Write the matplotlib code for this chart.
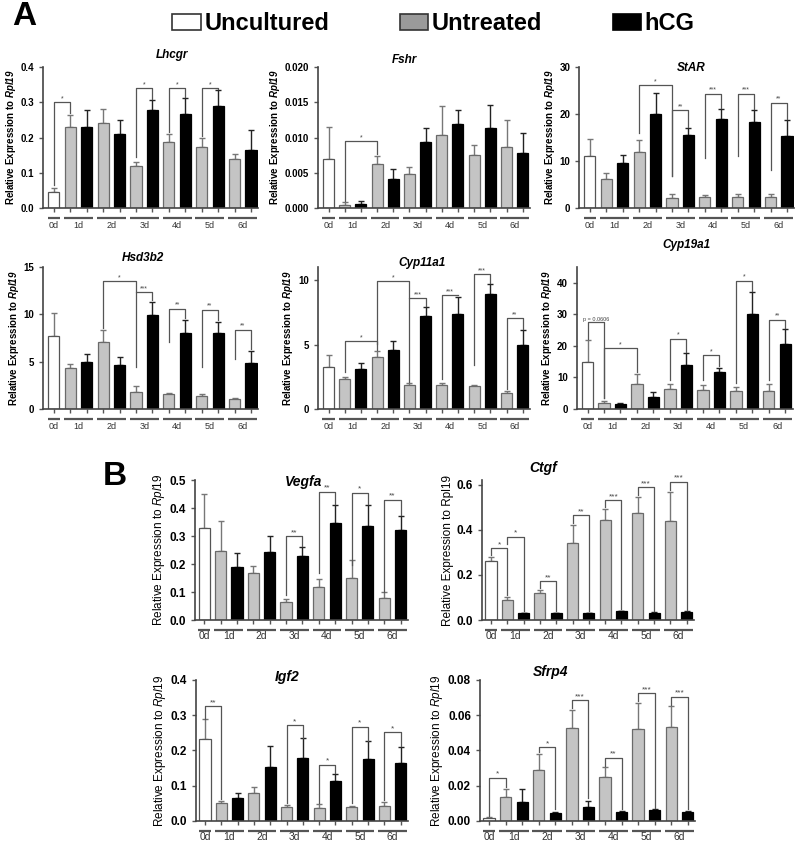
import numpy as np
import matplotlib
matplotlib.use("Agg")
import matplotlib.pyplot as plt
from matplotlib.patches import Patch
from matplotlib.transforms import blended_transform_factory, offset_copy

plt.rcParams['font.family'] = ['Liberation Sans', 'DejaVu Sans']
plt.rcParams['mathtext.fontset'] = 'custom'
plt.rcParams['mathtext.it'] = 'Liberation Sans:italic'
plt.rcParams['mathtext.bf'] = 'Liberation Sans:italic:bold'
plt.rcParams['mathtext.rm'] = 'Liberation Sans'

# groups: 0d uncultured, then untreated / hCG for days 1-6
days = ["0d", "1d", "2d", "3d", "4d", "5d", "6d"]

lhcgr_mean = [0.045, 0.23, 0.23, 0.241, 0.211, 0.119, 0.277, 0.187, 0.268, 0.173, 0.291, 0.14, 0.164]
lhcgr_err = [0.013, 0.035, 0.048, 0.041, 0.038, 0.011, 0.030, 0.024, 0.045, 0.027, 0.043, 0.014, 0.058]
lhcgr_sig = [(0, 1, 0.30, 0.065, 0.27, "*"), (5, 6, 0.34, 0.145, 0.31, "*"),
             (7, 8, 0.34, 0.215, 0.315, "*"), (9, 10, 0.34, 0.205, 0.337, "*")]

fshr_mean = [0.0070, 0.0004, 0.0006, 0.0062, 0.0041, 0.0049, 0.0094, 0.0103, 0.0119, 0.0075, 0.0114, 0.0087, 0.0078]
fshr_err = [0.0045, 0.0004, 0.0004, 0.0012, 0.0014, 0.0010, 0.0019, 0.0042, 0.0020, 0.0014, 0.0032, 0.0038, 0.0028]
fshr_sig = [(1, 3, 0.0095, 0.0010, 0.0077, "*")]

star_mean = [11.0, 6.2, 9.6, 12.0, 20.0, 2.1, 15.5, 2.4, 18.9, 2.4, 18.3, 2.4, 15.3]
star_err = [3.6, 1.3, 1.7, 2.5, 4.5, 0.8, 1.6, 0.3, 2.2, 0.5, 2.6, 0.5, 3.5]
star_sig = [(3, 5, 26.2, 16.0, 6.8, "*"), (5, 6, 20.8, 6.8, 17.3, "**"),
            (7, 8, 24.3, 10.6, 21.3, "***"), (9, 10, 24.3, 11.0, 21.0, "***"),
            (11, 12, 22.4, 8.2, 18.9, "**")]

hsd_mean = [7.7, 4.3, 5.0, 7.05, 4.65, 1.83, 9.9, 1.6, 8.0, 1.4, 8.0, 1.05, 4.85]
hsd_err = [2.4, 0.45, 0.8, 1.25, 0.8, 0.64, 1.4, 0.1, 1.4, 0.2, 1.2, 0.1, 1.25]
hsd_sig = [(3, 5, 13.5, 8.6, 12.35, "*"), (5, 6, 12.35, 4.4, 11.5, "***"),
           (7, 8, 10.6, 7.05, 9.6, "**"), (9, 10, 10.5, 4.4, 9.4, "**"),
           (11, 12, 8.4, 5.3, 6.3, "**")]

cyp11_mean = [3.25, 2.3, 3.1, 4.07, 4.6, 1.83, 7.24, 1.9, 7.37, 1.75, 8.9, 1.26, 5.0]
cyp11_err = [0.9, 0.2, 0.5, 0.43, 0.7, 0.17, 0.66, 0.15, 1.29, 0.15, 0.8, 0.14, 1.1]
cyp11_sig = [(1, 3, 5.26, 2.86, 4.6, "*"), (3, 5, 9.9, 5.05, 8.6, "*"),
             (5, 6, 8.6, 2.1, 8.0, "***"), (7, 8, 8.84, 2.35, 8.8, "***"),
             (9, 10, 10.46, 3.4, 9.8, "***"), (11, 12, 7.06, 1.57, 6.2, "**")]

cyp19_mean = [14.9, 1.8, 1.5, 7.9, 3.9, 6.5, 14.1, 6.0, 11.6, 5.8, 30.0, 5.8, 20.5]
cyp19_err = [6.9, 0.7, 0.3, 3.1, 1.4, 1.3, 3.7, 1.6, 1.5, 1.3, 7.0, 2.0, 5.0]
cyp19_sig = [(0, 1, 27.6, 22.2, 3.4, "p = 0.0606"), (1, 3, 19.2, 3.4, 11.8, "*"),
             (5, 6, 22.3, 9.2, 18.2, "*"), (7, 8, 17.1, 9.2, 13.5, "*"),
             (9, 10, 40.7, 8.1, 37.5, "*"), (11, 12, 28.3, 9.2, 25.8, "**")]

vegfa_mean = [0.327, 0.248, 0.19, 0.167, 0.244, 0.065, 0.229, 0.119, 0.345, 0.149, 0.336, 0.077, 0.321]
vegfa_err = [0.123, 0.106, 0.048, 0.026, 0.056, 0.010, 0.031, 0.026, 0.065, 0.066, 0.074, 0.023, 0.049]
vegfa_sig = [(5, 6, 0.30, 0.09, 0.265, "**"), (7, 8, 0.458, 0.167, 0.415, "**"),
             (9, 10, 0.455, 0.196, 0.415, "*"), (11, 12, 0.43, 0.10, 0.375, "**")]

ctgf_mean = [0.26, 0.088, 0.029, 0.12, 0.03, 0.339, 0.029, 0.442, 0.04, 0.474, 0.032, 0.438, 0.036]
ctgf_err = [0.02, 0.014, 0.003, 0.014, 0.003, 0.084, 0.002, 0.051, 0.002, 0.073, 0.002, 0.131, 0.004]
ctgf_sig = [(0, 1, 0.318, 0.29, 0.11, "*"), (1, 2, 0.369, 0.335, 0.04, "*"),
            (3, 4, 0.171, 0.14, 0.04, "**"), (5, 6, 0.464, 0.43, 0.04, "**"),
            (7, 8, 0.53, 0.50, 0.05, "***"), (9, 10, 0.588, 0.555, 0.04, "***"),
            (11, 12, 0.613, 0.575, 0.045, "***")]

igf2_mean = [0.232, 0.05, 0.066, 0.08, 0.154, 0.039, 0.179, 0.038, 0.113, 0.04, 0.175, 0.043, 0.165]
igf2_err = [0.056, 0.008, 0.012, 0.015, 0.059, 0.006, 0.055, 0.009, 0.019, 0.003, 0.051, 0.012, 0.045]
igf2_sig = [(0, 1, 0.325, 0.29, 0.062, "**"), (5, 6, 0.272, 0.05, 0.236, "*"),
            (7, 8, 0.16, 0.05, 0.135, "*"), (9, 10, 0.267, 0.05, 0.228, "*"),
            (11, 12, 0.251, 0.06, 0.212, "*")]

sfrp4_mean = [0.0015, 0.0134, 0.011, 0.029, 0.0047, 0.053, 0.0081, 0.025, 0.0049, 0.052, 0.006, 0.0535, 0.0053]
sfrp4_err = [0.0005, 0.0046, 0.007, 0.009, 0.0006, 0.010, 0.0034, 0.0054, 0.0005, 0.015, 0.0005, 0.0115, 0.0004]
sfrp4_sig = [(0, 1, 0.0245, 0.003, 0.019, "*"), (3, 4, 0.042, 0.039, 0.0065, "*"),
             (5, 6, 0.0685, 0.064, 0.013, "***"), (7, 8, 0.0358, 0.031, 0.0065, "**"),
             (9, 10, 0.0726, 0.068, 0.0075, "***"), (11, 12, 0.0704, 0.066, 0.0068, "***")]

fig = plt.figure(figsize=(8, 8.46), dpi=100)

ylab_a = r"Relative Expression to $\mathbf{Rpl19}$"
ylab_b = r"Relative Expression to $\mathit{Rpl19}$"


def panel(rect, mean, err, sig, title, title_xy, ymax, yticks, fmt, big=False, ylab=None):
    ax = fig.add_axes(rect)
    x = np.arange(len(mean))
    colors = ['white'] + ['#c4c4c4', 'black'] * 6
    edges = ['#555555'] + ['#6a6a6a', 'black'] * 6
    ecols = ['#777777'] + ['#777777', '#222222'] * 6
    for i in x:
        ax.errorbar(x[i], mean[i], yerr=[[0], [err[i]]], color=ecols[i],
                    capsize=2, elinewidth=1, capthick=1, zorder=1)
    ax.bar(x, mean, width=0.68, color=colors, edgecolor=edges, linewidth=0.9, zorder=2)

    fs_star = 6 if big else 5
    for i, j, y, b1, b2, lab in sig:
        ax.plot([i, i, j, j], [b1, y, y, b2], color='#555555', lw=0.9, clip_on=False, zorder=3)
        ax.text((i + j) / 2, y, lab, ha='center', va='bottom', fontsize=fs_star if len(lab) < 4 else 4,
                color='#444444')

    ax.set_xlim(-0.55 if big else -0.65, 12.45)
    ax.set_ylim(0, ymax)
    ax.set_xticks(x)
    ax.set_xticklabels([])
    ax.set_yticks(yticks)
    ax.set_yticklabels([fmt.format(t) for t in yticks])
    for s in ['top', 'right']:
        ax.spines[s].set_visible(False)
    for s in ['left', 'bottom']:
        ax.spines[s].set_color('#444444')
        ax.spines[s].set_linewidth(1.2)
    ax.tick_params(axis='both', length=3, width=1, color='#555555',
                   labelsize=8.5 if big else 7)
    for t in ax.get_yticklabels():
        t.set_fontweight('bold')
    if ylab is None:
        ylab = ylab_b if big else ylab_a
    ax.set_ylabel(ylab, fontsize=8.5 if big else 7, fontweight='normal' if big else 'bold', labelpad=2)

    # day group underlines and labels
    base = blended_transform_factory(ax.transData, ax.transAxes)
    tline = offset_copy(base, fig=fig, y=-7, units='points')
    ttxt = offset_copy(base, fig=fig, y=-9.5 if not big else -8, units='points')
    groups = [(0, 0)] + [(2 * d - 1, 2 * d) for d in range(1, 7)]
    for (a, b), lab in zip(groups, days):
        ax.plot([a - 0.38, b + 0.38], [0, 0], transform=tline, color='#555555', lw=1.6,
                clip_on=False, solid_capstyle='butt')
        ax.text((a + b) / 2, 0, lab, transform=ttxt, ha='center', va='top',
                fontsize=7.5 if big else 6.5, color='#333333')

    ax.text(title_xy[0], title_xy[1], title, transform=ax.transAxes, ha='center', va='center',
            fontsize=10 if big else 8.5, fontweight='bold', fontstyle='italic')
    return ax


panel([0.054, 0.754, 0.269, 0.1667], lhcgr_mean, lhcgr_err, lhcgr_sig, "Lhcgr", (0.60, 1.085),
      0.4, [0.0, 0.1, 0.2, 0.3, 0.4], "{:.1f}")
panel([0.3975, 0.754, 0.265, 0.1667], fshr_mean, fshr_err, fshr_sig, "Fshr", (0.41, 1.05),
      0.020, [0.0, 0.005, 0.010, 0.015, 0.020], "{:.3f}")
panel([0.724, 0.754, 0.269, 0.1667], star_mean, star_err, star_sig, "StAR", (0.52, 0.99),
      30, [0, 10, 20, 30], "{:d}")
panel([0.054, 0.5165, 0.269, 0.1678], hsd_mean, hsd_err, hsd_sig, "Hsd3b2", (0.465, 1.063),
      15, [0, 5, 10, 15], "{:d}")
panel([0.3975, 0.5165, 0.265, 0.1678], cyp11_mean, cyp11_err, cyp11_sig, "Cyp11a1", (0.49, 1.03),
      11, [0, 5, 10], "{:d}")
panel([0.721, 0.5165, 0.27, 0.1678], cyp19_mean, cyp19_err, cyp19_sig, "Cyp19a1", (0.51, 1.155),
      45, [0, 10, 20, 30, 40], "{:d}")
panel([0.244, 0.2671, 0.266, 0.1655], vegfa_mean, vegfa_err, vegfa_sig, "Vegfa", (0.51, 0.986),
      0.5, [0.0, 0.1, 0.2, 0.3, 0.4, 0.5], "{:.1f}", big=True)
panel([0.6025, 0.2671, 0.265, 0.1655], ctgf_mean, ctgf_err, ctgf_sig, "Ctgf", (0.29, 1.086),
      0.62, [0.0, 0.2, 0.4, 0.6], "{:.1f}", big=True, ylab="Relative Expression to Rpl19")
panel([0.245, 0.0296, 0.265, 0.1667], igf2_mean, igf2_err, igf2_sig, "Igf2", (0.43, 1.02),
      0.4, [0.0, 0.1, 0.2, 0.3, 0.4], "{:.1f}", big=True)
panel([0.6, 0.0296, 0.269, 0.1667], sfrp4_mean, sfrp4_err, sfrp4_sig, "Sfrp4", (0.33, 1.057),
      0.08, [0.0, 0.02, 0.04, 0.06, 0.08], "{:.2f}", big=True)

fig.text(0.015, 0.962, "A", fontsize=24, fontweight='bold', va='bottom')
fig.text(0.128, 0.418, "B", fontsize=24, fontweight='bold', va='bottom')

handles = [Patch(facecolor='white', edgecolor='#333333', lw=1.2),
           Patch(facecolor='#9a9a9a', edgecolor='#333333', lw=1.2),
           Patch(facecolor='black', edgecolor='black', lw=1.2)]
fig.legend(handles, ["Uncultured", "Untreated", "hCG"], loc='center', bbox_to_anchor=(0.542, 0.972),
           ncol=3, frameon=False, prop={'weight': 'bold', 'size': 17}, handlelength=1.2,
           handleheight=0.7, columnspacing=3.0, handletextpad=0.15)

fig.savefig("out.png", dpi=100)
